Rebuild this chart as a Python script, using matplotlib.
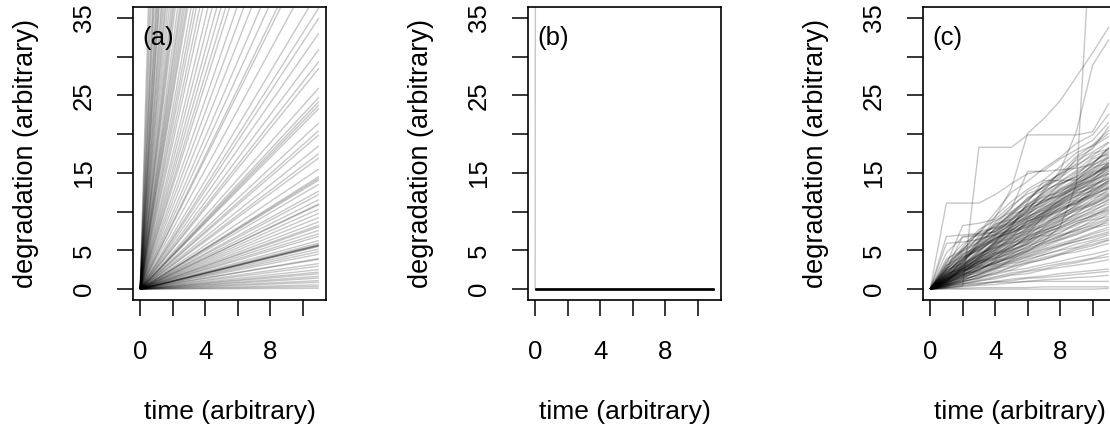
import matplotlib
matplotlib.use("Agg")
import matplotlib.pyplot as plt

plt.rcParams['font.family'] = ['Liberation Sans', 'DejaVu Sans']

# observation times
times = [0, 1, 2, 3, 4, 5, 6, 7, 8, 9, 10, 11]

# (a) linear degradation paths: rate per unit time for each unit
rate_a = [
    72.0, 62.0, 55.0, 48.0, 45.0, 42.0, 38.0, 36.0,
    34.0, 32.0, 31.0, 28.4, 27.0, 25.5, 24.0, 22.9, 21.5,
    20.2, 19.0, 18.2, 17.5, 16.8, 15.7, 14.9, 14.4, 13.8, 13.3, 12.8, 12.4,
    11.6, 11.0, 10.5, 9.9, 9.4, 8.7, 8.2, 7.7, 7.3, 6.9, 6.6, 6.1, 5.7, 5.3,
    4.9, 4.6, 4.3, 4.2, 3.85, 3.5, 3.3,
    3.18, 3.0, 2.81, 2.67, 2.59, 2.36, 2.25, 2.2, 2.16, 2.12, 1.95, 1.86,
    1.81, 1.68, 1.59, 1.54, 1.41, 1.32, 1.3, 1.28, 1.23, 1.15, 1.11, 1.05,
    1.0, 0.99, 0.94, 0.89, 0.84, 0.79, 0.75, 0.73, 0.69, 0.65, 0.62, 0.57,
    0.54, 0.52, 0.52, 0.51, 0.51, 0.5, 0.47, 0.44, 0.41, 0.36, 0.35, 0.3,
    0.27, 0.23, 0.2, 0.18, 0.15, 0.13, 0.1, 0.08, 0.05, 0.03, 0.01,
]

# (b) degenerate case: almost every unit has zero rate, one is near-infinite
rate_b = [
    3000.0,
    0.0, 0.0, 0.0, 0.0, 0.0, 0.0, 0.0, 0.0, 0.0, 0.0,
    0.0, 0.0, 0.0, 0.0, 0.0, 0.0, 0.0, 0.0, 0.0, 0.0,
    0.0, 0.0, 0.0, 0.0, 0.0, 0.0, 0.0, 0.0, 0.0, 0.0,
    0.0, 0.0, 0.0, 0.0, 0.0, 0.0, 0.0, 0.0, 0.0, 0.0,
]

# (c) cumulative degradation (gamma-type increments) at each observation time
paths_c = [
    [0, 11.1, 11.1, 11.1, 12.2, 13.6, 14.9, 15.3, 16.8, 18.0, 19.2, 21.5],
    [0, 0.2, 0.4, 18.3, 18.3, 18.3, 19.9, 19.9, 19.9, 19.9, 20.3, 24.0],
    [0, 0.6, 1.1, 1.9, 2.6, 3.8, 4.9, 6.2, 8.1, 13.5, 50.0, 55.0],
    [0, 1.3, 2.4, 4.1, 6.0, 8.2, 10.1, 12.6, 15.3, 20.3, 28.9, 32.2],
    [0, 1.6, 3.4, 6.1, 9.2, 13.0, 20.1, 22.0, 24.3, 27.4, 30.5, 33.8],
    [0, 2.1, 4.0, 6.2, 8.3, 10.4, 15.2, 15.2, 15.4, 15.6, 16.1, 18.2],
    [0, 1.0, 2.6, 4.1, 6.2, 8.0, 11.2, 14.0, 14.0, 14.1, 15.2, 16.6],
    [0, 3.2, 8.2, 8.5, 9.0, 10.8, 12.3, 13.1, 14.6, 16.2, 18.4, 19.7],
    [0, 2.5, 6.8, 7.1, 7.4, 9.0, 10.2, 12.9, 14.4, 15.8, 17.5, 18.1],
    [0, 1.2, 2.5, 3.1, 4.8, 6.3, 7.1, 9.5, 11.0, 12.4, 13.1, 14.9],
    [0, 0.8, 1.9, 2.4, 3.7, 4.9, 5.8, 7.3, 8.0, 9.1, 10.2, 11.0],
    [0, 0.4, 0.9, 1.6, 2.1, 2.5, 3.3, 3.9, 4.4, 5.1, 5.6, 6.3],
    [0, 0.1, 0.1, 0.2, 0.2, 0.2, 0.2, 0.3, 0.3, 0.3, 0.3, 0.3],
    [0, 0.5, 0.7, 0.8, 0.9, 0.9, 1.0, 1.0, 1.0, 1.0, 1.0, 1.0],
    [0, 1.7, 3.9, 5.5, 7.9, 9.6, 11.8, 13.2, 15.0, 17.1, 18.6, 20.5],
    [0, 2.8, 5.1, 7.3, 9.9, 12.5, 13.9, 15.6, 17.0, 18.8, 19.9, 22.6],
    [0, 1.4, 3.0, 4.4, 5.6, 7.5, 9.2, 10.8, 12.1, 13.7, 15.4, 16.9],
    [0, 0.9, 2.2, 3.6, 4.3, 5.8, 7.2, 8.3, 9.9, 11.6, 12.8, 13.5],
    [0, 1.1, 1.8, 2.9, 4.6, 5.2, 6.9, 7.6, 8.8, 9.7, 11.4, 12.9],
    [0, 0.6, 1.5, 2.2, 3.0, 3.9, 4.6, 5.4, 6.3, 7.0, 7.8, 8.9],
    [0, 0.3, 0.8, 1.2, 1.6, 2.1, 2.4, 2.9, 3.3, 3.6, 4.0, 4.6],
    [0, 2.0, 4.3, 6.9, 7.4, 8.8, 10.9, 12.0, 13.3, 14.9, 16.3, 17.8],
    [0, 1.5, 2.7, 3.4, 5.1, 6.6, 8.0, 9.8, 10.9, 12.0, 13.6, 15.0],
    [0, 0.7, 2.0, 3.3, 3.9, 4.8, 6.1, 7.9, 9.0, 10.2, 10.8, 12.1],
    [0, 1.9, 3.1, 4.8, 6.6, 7.3, 8.4, 10.1, 11.4, 12.9, 14.2, 15.9],
    [0, 0.5, 1.1, 2.0, 2.7, 3.5, 4.2, 4.9, 5.7, 6.1, 6.8, 7.4],
    [0, 1.0, 2.4, 2.9, 3.5, 4.4, 5.6, 6.3, 7.4, 8.2, 9.3, 10.1],
    [0, 2.3, 3.7, 5.9, 7.6, 9.3, 10.7, 11.5, 13.6, 14.4, 15.9, 17.3],
    [0, 1.2, 2.8, 4.6, 5.3, 6.8, 8.5, 9.2, 10.3, 11.3, 12.2, 13.8],
    [0, 0.4, 1.3, 1.7, 2.5, 3.3, 3.7, 4.5, 5.0, 5.4, 6.1, 6.6],
    [0, 3.6, 5.8, 7.2, 9.4, 11.3, 12.9, 14.1, 15.8, 17.6, 18.5, 20.1],
    [0, 0.8, 1.6, 2.7, 3.4, 4.1, 5.3, 6.0, 6.9, 7.5, 8.4, 9.2],
    [0, 1.6, 3.3, 5.0, 6.4, 8.3, 9.5, 11.3, 12.7, 13.5, 14.7, 16.2],
    [0, 0.2, 0.5, 0.7, 1.0, 1.3, 1.5, 1.7, 2.0, 2.2, 2.4, 2.6],
    [0, 1.1, 2.1, 3.9, 4.7, 6.0, 6.8, 8.6, 9.4, 10.9, 11.9, 12.6],
    [0, 2.6, 4.5, 5.6, 7.0, 9.1, 10.6, 11.9, 12.5, 13.8, 15.0, 15.8],
    [0, 0.9, 1.5, 2.6, 3.2, 4.3, 5.0, 5.9, 6.7, 7.9, 8.6, 9.7],
    [0, 1.4, 2.9, 3.7, 5.4, 6.2, 7.7, 8.9, 10.6, 11.1, 12.5, 14.1],
    [0, 0.6, 1.0, 1.4, 2.3, 2.8, 3.4, 3.8, 4.5, 4.8, 5.3, 5.9],
    [0, 4.7, 6.7, 6.9, 8.1, 9.7, 10.3, 12.2, 13.5, 14.6, 16.8, 17.4],
    [0, 1.8, 3.5, 5.3, 7.2, 8.9, 10.0, 11.6, 12.8, 14.0, 16.1, 18.3],
    [0, 0.3, 0.6, 1.1, 1.3, 1.8, 2.0, 2.5, 2.8, 3.1, 3.4, 3.8],
    [0, 1.3, 2.3, 3.3, 4.1, 5.5, 6.4, 7.1, 8.5, 9.4, 10.6, 11.5],
    [0, 2.2, 3.9, 6.3, 8.6, 10.5, 12.6, 13.7, 14.8, 16.6, 17.7, 19.0],
    [0, 0.7, 1.8, 2.3, 3.1, 3.6, 4.5, 5.2, 5.9, 6.5, 7.3, 8.0],
    [0, 1.0, 1.7, 3.0, 3.8, 5.1, 5.8, 6.6, 7.8, 8.7, 9.5, 10.4],
    [0, 0.1, 0.3, 0.5, 0.6, 0.8, 1.0, 1.2, 1.3, 1.5, 1.6, 1.8],
    [0, 1.5, 3.2, 4.4, 6.1, 7.7, 9.0, 10.4, 11.9, 13.0, 14.3, 15.5],
    [0, 0.5, 1.4, 1.8, 2.7, 3.0, 3.9, 4.4, 5.1, 5.8, 6.3, 7.0],
    [0, 2.0, 2.7, 4.0, 5.5, 6.9, 7.5, 9.3, 10.5, 11.8, 13.4, 14.2],
    [0, 1.2, 2.6, 3.8, 5.0, 6.4, 7.9, 9.0, 10.0, 11.2, 12.0, 13.2],
    [0, 0.8, 2.0, 2.5, 3.6, 4.7, 5.3, 6.8, 7.2, 8.5, 9.0, 9.9],
    [0, 3.0, 5.4, 7.7, 8.8, 10.0, 11.4, 13.4, 14.9, 16.0, 17.2, 18.9],
    [0, 0.4, 0.7, 1.0, 1.5, 1.9, 2.3, 2.6, 3.1, 3.4, 3.9, 4.2],
    [0, 1.7, 2.4, 3.6, 4.9, 6.1, 7.4, 8.1, 9.6, 10.3, 11.7, 12.4],
    [0, 1.1, 2.3, 3.5, 4.4, 5.4, 6.5, 7.6, 8.3, 9.9, 10.9, 11.8],
    [0, 0.6, 1.2, 1.9, 2.9, 3.4, 4.1, 4.7, 5.5, 6.2, 6.6, 7.2],
    [0, 2.4, 4.8, 6.0, 7.8, 9.8, 11.0, 12.4, 13.9, 15.3, 17.0, 18.0],
    [0, 1.3, 2.1, 3.2, 4.5, 5.0, 6.3, 7.0, 8.1, 9.0, 9.8, 10.7],
    [0, 0.9, 1.9, 2.8, 3.3, 4.5, 5.5, 6.4, 7.0, 7.7, 8.9, 9.4],
    [0, 1.8, 2.9, 4.2, 5.7, 7.0, 8.2, 9.7, 11.2, 12.3, 13.3, 14.6],
    [0, 0.2, 0.4, 0.6, 0.9, 1.1, 1.4, 1.5, 1.7, 1.9, 2.1, 2.3],
    [0, 1.0, 2.2, 3.6, 4.0, 5.3, 6.7, 7.4, 8.7, 9.6, 10.4, 11.6],
    [0, 2.7, 3.8, 5.2, 6.8, 8.5, 9.8, 10.9, 12.3, 13.2, 14.5, 16.4],
    [0, 0.7, 1.6, 2.1, 2.8, 3.7, 4.3, 5.1, 5.6, 6.4, 7.1, 7.7],
    [0, 1.4, 2.5, 4.0, 5.2, 6.5, 7.3, 8.8, 9.7, 10.6, 12.1, 13.0],
    [0, 0.0, 0.0, 0.0, 0.0, 0.0, 0.0, 0.0, 0.0, 0.0, 0.0, 0.1],
    [0, 6.8, 7.0, 7.2, 7.9, 8.6, 9.9, 11.5, 12.0, 13.1, 14.8, 16.0],
    [0, 1.6, 3.6, 5.4, 7.4, 9.5, 11.5, 13.3, 14.2, 16.9, 18.1, 21.0],
    [0, 0.3, 1.0, 1.4, 1.9, 2.4, 2.7, 3.2, 3.6, 4.1, 4.5, 5.0],
    [0, 2.2, 4.1, 5.0, 6.3, 8.1, 9.4, 10.2, 11.8, 13.6, 14.8, 15.7],
    [0, 1.3, 3.8, 5.7, 6.5, 7.9, 9.6, 11.7, 13.0, 14.2, 15.5, 17.1],
    [0, 0.9, 2.9, 4.4, 5.9, 6.6, 8.9, 10.3, 11.3, 12.7, 14.0, 14.9],
    [0, 3.4, 4.9, 6.5, 7.1, 8.3, 10.5, 11.2, 12.4, 14.0, 15.7, 16.3],
    [0, 1.9, 2.6, 3.8, 5.8, 7.1, 8.7, 9.9, 11.6, 12.5, 13.8, 15.3],
    [0, 0.8, 1.7, 3.4, 4.2, 5.0, 6.0, 7.2, 7.9, 8.8, 9.4, 10.6],
    [0, 2.5, 3.3, 4.5, 5.5, 7.4, 8.1, 9.3, 10.1, 11.0, 12.9, 13.7],
    [0, 1.1, 3.1, 4.9, 6.7, 8.0, 9.1, 9.8, 11.5, 13.4, 14.1, 15.8],
    [0, 1.6, 2.2, 3.0, 4.0, 4.6, 5.9, 6.9, 7.6, 8.4, 9.6, 10.2],
    [0, 2.9, 5.2, 6.6, 8.4, 9.0, 10.8, 12.5, 13.8, 15.1, 16.4, 17.6],
    [0, 0.5, 1.3, 2.6, 3.4, 4.0, 4.8, 5.6, 6.5, 7.3, 8.0, 8.6],
    [0, 1.4, 2.0, 3.7, 4.6, 5.7, 7.0, 8.2, 9.3, 10.1, 11.1, 12.2],
    [0, 3.9, 5.0, 6.1, 7.7, 8.4, 9.2, 10.6, 11.4, 12.8, 13.5, 14.4],
    [0, 1.0, 2.7, 4.2, 5.0, 6.7, 7.8, 9.6, 10.8, 11.5, 13.0, 13.9],
    [0, 2.1, 3.4, 5.8, 7.0, 8.6, 9.7, 11.0, 12.9, 13.7, 14.6, 16.0],
    [0, 0.7, 1.4, 2.4, 3.6, 4.2, 5.1, 6.1, 6.8, 7.6, 8.2, 9.0],
    [0, 1.8, 4.4, 5.2, 6.9, 8.4, 10.2, 11.3, 12.2, 13.3, 15.1, 16.2],
    [0, 1.2, 1.9, 2.8, 3.9, 5.6, 6.2, 7.5, 8.4, 9.2, 10.0, 11.3],
    [0, 2.4, 4.6, 5.4, 6.2, 7.6, 8.8, 9.4, 10.8, 12.0, 12.7, 14.0],
    [0, 0.9, 2.4, 3.2, 4.4, 5.9, 6.5, 8.0, 9.2, 10.5, 11.3, 12.3],
    [0, 5.9, 6.1, 6.4, 7.0, 7.6, 8.8, 9.5, 10.4, 11.0, 12.6, 13.3],
    [0, 1.5, 3.0, 4.7, 6.0, 7.2, 8.6, 10.0, 11.1, 12.6, 13.9, 15.2],
    [0, 0.4, 1.0, 1.5, 2.0, 2.9, 3.5, 4.1, 4.6, 5.3, 5.8, 6.4],
    [0, 2.0, 3.6, 5.5, 6.4, 7.8, 9.3, 10.5, 12.0, 13.1, 14.0, 15.6],
    [0, 1.1, 2.8, 4.0, 5.3, 6.0, 7.6, 8.4, 9.5, 10.8, 12.4, 13.1],
    [0, 3.1, 4.2, 5.0, 6.6, 7.3, 8.0, 9.1, 10.2, 11.4, 12.2, 13.0],
    [0, 0.6, 1.7, 2.5, 3.3, 4.1, 4.9, 5.8, 6.4, 7.1, 7.9, 8.3],
    [0, 1.7, 3.1, 4.3, 5.9, 7.6, 8.3, 9.9, 11.0, 12.1, 13.2, 14.3],
    [0, 2.6, 5.0, 7.4, 8.0, 9.9, 11.7, 12.8, 13.6, 14.5, 16.0, 17.0],
    [0, 1.3, 2.6, 3.5, 4.7, 5.4, 6.8, 7.8, 8.9, 10.4, 11.0, 12.0],
]

panel_tags = ["(a)", "(b)", "(c)"]
x_ticks = [0, 2, 4, 6, 8, 10]
x_tick_labels = ["0", "", "4", "", "8", ""]
y_ticks = [0, 5, 10, 15, 20, 25, 30, 35]
y_tick_labels = ["0", "5", "", "15", "", "25", "", "35"]
x_label = "time (arbitrary)"
y_label = "degradation (arbitrary)"

W, H = 1110, 432
fig = plt.figure(figsize=(W / 100, H / 100), dpi=100)

line_kw = dict(color="black", alpha=0.22, lw=1.0, solid_capstyle="butt")
panel_left = [133, 528, 923]
panel_w, panel_top, panel_bottom = 193, 7, 300

axes = []
for left in panel_left:
    ax = fig.add_axes([left / W, (H - panel_bottom) / H,
                       panel_w / W, (panel_bottom - panel_top) / H])
    axes.append(ax)

t_end = times[-1]
for r in rate_a:
    axes[0].plot([0, t_end], [0, r * t_end], **line_kw)
for r in rate_b:
    axes[1].plot([0, t_end], [0, r * t_end], **line_kw)
for p in paths_c:
    axes[2].plot(times, p, **line_kw)

for ax, tag in zip(axes, panel_tags):
    ax.set_xlim(-0.44, 11.44)
    ax.set_ylim(-1.4, 36.4)
    for s in ax.spines.values():
        s.set_linewidth(1.2)
    ax.set_xticks(x_ticks)
    ax.set_xticklabels(x_tick_labels)
    ax.set_yticks(y_ticks)
    ax.set_yticklabels(y_tick_labels, rotation=90, va="center")
    ax.tick_params(axis="both", direction="out", length=11.5, width=1.1,
                   labelsize=18.5)
    ax.tick_params(axis="x", pad=17)
    ax.tick_params(axis="y", pad=15)
    ax.set_xlabel(x_label, fontsize=19, labelpad=26)
    ax.set_ylabel(y_label, fontsize=19.5, labelpad=24)
    ax.text(0.05, 0.895, tag, transform=ax.transAxes, fontsize=18.5,
            ha="left", va="center")

fig.savefig("out.png", dpi=100)
